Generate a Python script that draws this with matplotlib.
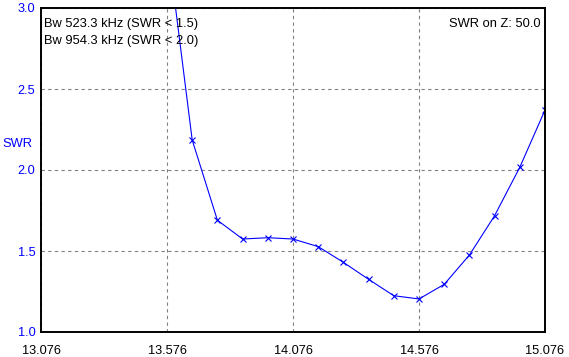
import matplotlib
matplotlib.use("Agg")
import matplotlib.pyplot as plt

# ------- SWR sweep ------- #
freqs = [13.576, 13.676, 13.776, 13.876, 13.976, 14.076, 14.176, 14.276,
         14.376, 14.476, 14.576, 14.676, 14.776, 14.876, 14.976, 15.076]
swr = [3.42, 2.185, 1.69, 1.574, 1.582, 1.574, 1.527, 1.43,
       1.325, 1.224, 1.204, 1.294, 1.475, 1.718, 2.017, 2.37]

xTicks = [13.076, 13.576, 14.076, 14.576, 15.076]
yTicks = [1.0, 1.5, 2.0, 2.5, 3.0]

bwLines = ["Bw 523.3 kHz (SWR < 1.5)", "Bw 954.3 kHz (SWR < 2.0)"]
zText = "SWR on Z: 50.0"

plt.rcParams["font.family"] = ["Liberation Sans", "DejaVu Sans"]
plt.rcParams["font.size"] = 9

W, H = 569, 357
fig = plt.figure(figsize=(W / 100, H / 100), dpi=100)
# plot area in pixels: x 41..545, y 8..332
ax = fig.add_axes([41 / W, 1 - 332 / H, 504 / W, 324 / H])

ax.plot(freqs, swr, color="#0000ff", linewidth=0.8,
        marker="x", markersize=4.5, markeredgewidth=0.8, clip_on=True)

ax.set_xlim(xTicks[0], xTicks[-1])
ax.set_ylim(yTicks[0], yTicks[-1])
ax.set_xticks(xTicks)
ax.set_xticklabels(["%.3f" % t for t in xTicks])
ax.set_yticks(yTicks)
ax.set_yticklabels(["%.1f" % t for t in yTicks], color="#0000ff")
ax.tick_params(axis="x", length=0, pad=9, labelsize=9.2)
ax.tick_params(axis="y", length=0, pad=4, labelsize=9.2)

ax.grid(True, color="#808080", linestyle=(0, (3, 3)), linewidth=0.8)
for sp in ax.spines.values():
    sp.set_linewidth(1.4)
    sp.set_color("black")

ax.text(3 / 504, 1 - 16 / 324, bwLines[0], transform=ax.transAxes, va="center", ha="left", fontsize=9.3)
ax.text(3 / 504, 1 - 33 / 324, bwLines[1], transform=ax.transAxes, va="center", ha="left", fontsize=9.3)
ax.text(1 - 4 / 504, 1 - 16 / 324, zText, transform=ax.transAxes, va="center", ha="right", fontsize=9.3)

fig.text(2 / W, 1 - 144 / H, "SWR", color="#0000ff", va="center", ha="left", fontsize=9.3)

fig.savefig("out.png", dpi=100)
